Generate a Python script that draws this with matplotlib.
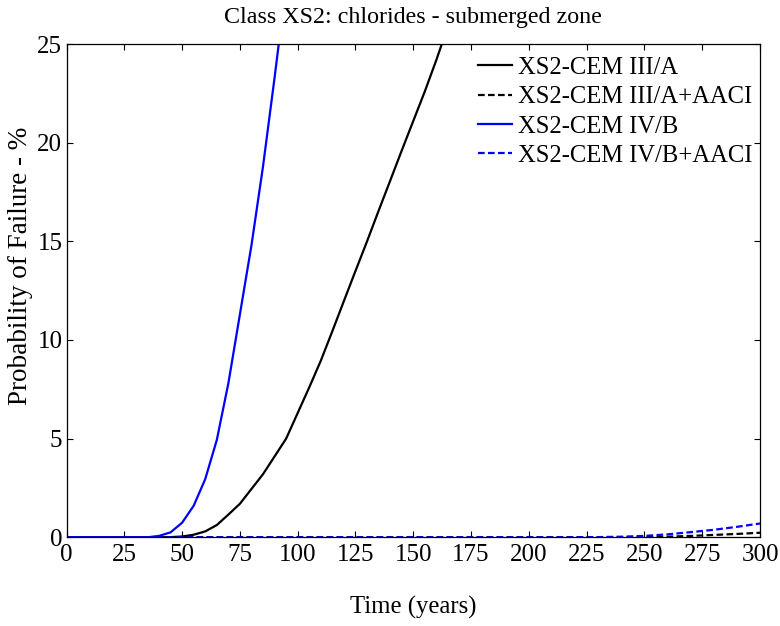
import numpy as np
import matplotlib.pyplot as plt

# Time (years) and probability of failure (%)
t_cem3 = [0, 40, 45, 50, 55, 60, 65, 70, 75, 80, 85, 90, 95, 100, 105, 110,
          115, 120, 125, 130, 135, 140, 145, 150, 155, 160, 165]
pf_cem3 = [0, 0, 0.01, 0.04, 0.13, 0.3, 0.62, 1.15, 1.7, 2.45, 3.2, 4.1, 5.0,
           6.3, 7.6, 8.95, 10.45, 11.98, 13.5, 15.0, 16.55, 18.07, 19.6,
           21.1, 22.6, 24.2, 25.9]

t_cem4 = [0, 35, 40, 45, 50, 55, 60, 65, 70, 75, 80, 85, 90, 95]
pf_cem4 = [0, 0, 0.07, 0.25, 0.74, 1.6, 2.95, 4.93, 7.8, 11.3, 14.8, 18.8,
           23.3, 28.0]

t_cem3_aaci = [0, 240, 250, 260, 270, 280, 290, 300]
pf_cem3_aaci = [0, 0, 0.01, 0.03, 0.07, 0.12, 0.17, 0.23]

t_cem4_aaci = [0, 220, 230, 240, 250, 260, 270, 280, 290, 300]
pf_cem4_aaci = [0, 0, 0.01, 0.03, 0.07, 0.15, 0.26, 0.38, 0.53, 0.7]

xticks = np.arange(0, 301, 25)
yticks = np.arange(0, 26, 5)

plt.rcParams['font.family'] = ['Liberation Serif', 'DejaVu Serif']

fig = plt.figure(figsize=(7.8, 6.26), dpi=100)
ax = fig.add_axes([0.0853, 0.1417, 0.8891, 0.7880])

ax.plot(t_cem3, pf_cem3, color='black', lw=1.6, label='XS2-CEM III/A')
ax.plot(t_cem3_aaci, pf_cem3_aaci, color='black', lw=1.6, ls='--',
        dashes=(3, 1.5), label='XS2-CEM III/A+AACI')
ax.plot(t_cem4, pf_cem4, color='blue', lw=1.6, label='XS2-CEM IV/B')
ax.plot(t_cem4_aaci, pf_cem4_aaci, color='blue', lw=1.6, ls='--',
        dashes=(3, 1.5), label='XS2-CEM IV/B+AACI')

ax.set_xlim(0, 300)
ax.set_ylim(0, 25)
ax.set_xticks(xticks)
ax.set_yticks(yticks)
ax.tick_params(direction='in', top=True, right=True, length=4, width=0.8,
               labelsize=18)
ax.tick_params(axis='x', pad=5)
ax.tick_params(axis='y', pad=3)
for sp in ax.spines.values():
    sp.set_linewidth(0.9)

ax.set_title('Class XS2: chlorides - submerged zone', fontsize=17.3, pad=15)
ax.set_xlabel('Time (years)', fontsize=17.8, labelpad=21)
ax.set_ylabel('Probability of Failure - %', fontsize=19.5)
ax.yaxis.set_label_coords(-0.048, 0.55)

ax.legend(loc='upper left', bbox_to_anchor=(0.593, 0.974), frameon=False,
          fontsize=17.7, borderpad=0, handlelength=1.4, handletextpad=0.25,
          labelspacing=0.29, borderaxespad=0)

fig.savefig('out.png', dpi=100)
